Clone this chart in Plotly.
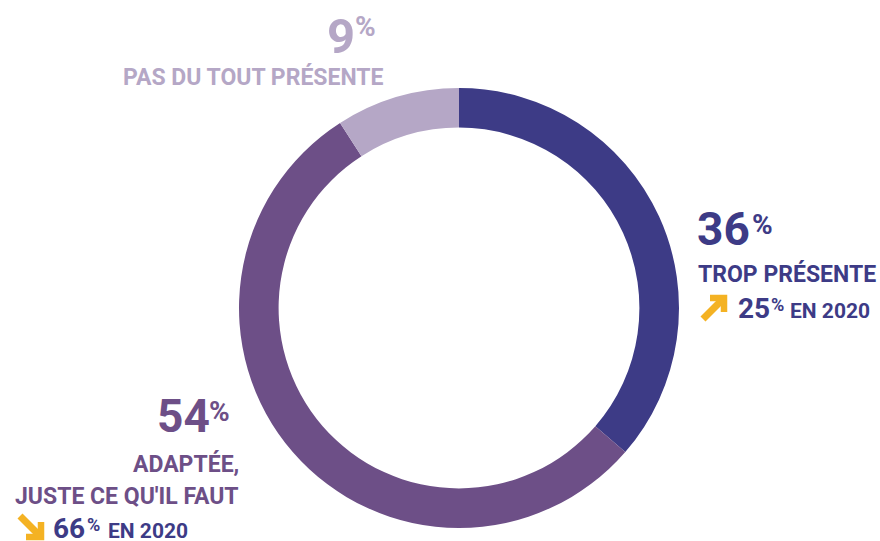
import plotly.graph_objects as go

# ---- data ----
categories = ["TROP PRÉSENTE", "ADAPTÉE, JUSTE CE QU'IL FAUT", "PAS DU TOUT PRÉSENTE"]
label_lines = [["TROP PRÉSENTE"], ["ADAPTÉE,", "JUSTE CE QU'IL FAUT"], ["PAS DU TOUT PRÉSENTE"]]
values = [36, 54, 9]
values_2020 = [25, 66, None]
colors = ["#3d3b86", "#6d4f87", "#b5a7c6"]
ARROW_COLOR = "#f4b223"

W, H = 880, 541
FONT = "Roboto, Arial, sans-serif"


def px(x):
    return x / W


def py(y):
    return 1 - y / H


fig = go.Figure(go.Pie(
    values=values,
    labels=categories,
    marker=dict(colors=colors, line=dict(width=0)),
    hole=0.82,
    sort=False,
    direction="clockwise",
    rotation=0,
    textinfo="none",
    hoverinfo="label+percent",
    showlegend=False,
    domain=dict(x=[px(239), px(679)], y=[py(528), py(88)]),
))

ann = []


def text(x, baseline, s, size, color, xanchor="left"):
    ann.append(dict(x=px(x), y=py(baseline + 0.31 * size), xref="paper", yref="paper",
                    text=s, showarrow=False, xanchor=xanchor, yanchor="bottom",
                    font=dict(family=FONT, size=size, color=color, weight="bold"),
                    borderpad=0))


# 36% block (right)
text(696, 243, str(values[0]), 46, colors[0])
text(751, 233, "%", 28, colors[0])
text(697, 282, label_lines[0][0], 23, colors[0])
text(737, 317, str(values_2020[0]), 28, colors[0])
text(770, 310, "%", 18, colors[0])
text(789, 317, "EN 2020", 21, colors[0])

# 54% block (left)
text(211, 430, str(values[1]), 46, colors[1], xanchor="right")
text(208, 420, "%", 28, colors[1])
text(240, 472, label_lines[1][0], 23, colors[1], xanchor="right")
text(240, 504, label_lines[1][1], 23, colors[1], xanchor="right")
text(52, 537, str(values_2020[1]), 28, colors[0])
text(86, 530, "%", 18, colors[0])
text(107, 537, "EN 2020", 21, colors[0])

# 9% block (top)
text(356, 51, str(values[2]), 49, colors[2], xanchor="right")
text(354, 35, "%", 28, colors[2])
text(385, 85, label_lines[2][0], 23, colors[2], xanchor="right")

shapes = []


def path(d, width=6.5):
    shapes.append(dict(type="path", path=d, xref="paper", yref="paper",
                       line=dict(color=ARROW_COLOR, width=width)))


def P(x, y):
    return f"{px(x)},{py(y)}"


# up-right arrow
path(f"M{P(710, 298)} L{P(724, 298)} L{P(724, 312)}")
path(f"M{P(723, 299)} L{P(703, 319)}", 7)
# down-right arrow
path(f"M{P(26, 537)} L{P(41, 537)} L{P(41, 522)}")
path(f"M{P(40, 536)} L{P(20, 516)}", 7)

fig.update_layout(
    width=W, height=H,
    margin=dict(l=0, r=0, t=0, b=0),
    paper_bgcolor="white",
    plot_bgcolor="white",
    annotations=ann,
    shapes=shapes,
)

fig.write_html("out.html", config={"displayModeBar": False},
               post_script="document.body.style.margin='0';document.body.style.overflow='hidden';")
